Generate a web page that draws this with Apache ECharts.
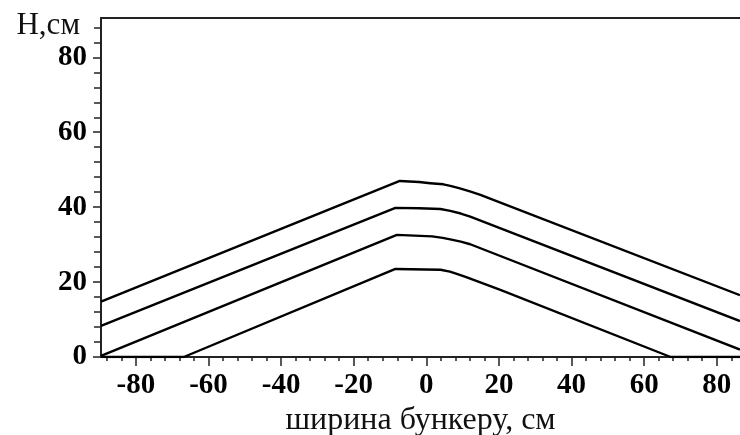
<!DOCTYPE html>
<html>
<head>
<meta charset="utf-8">
<script src="https://cdn.jsdelivr.net/npm/echarts@6/dist/echarts.min.js"></script>
<style>
html,body{margin:0;padding:0;background:#fff;}
#c{width:740px;height:435px;}
</style>
</head>
<body>
<div id="c"></div>
<script>
// ---- data ----
var xMajorTicks = [-80, -60, -40, -20, 0, 20, 40, 60, 80];
var xMinorTicks = [-88, -84, -76, -72, -68, -64, -56, -52, -48, -44, -36, -32, -28, -24, -16, -12, -8, -4,
                   4, 8, 12, 16, 24, 28, 32, 36, 44, 48, 52, 56, 64, 68, 72, 76, 84];
var yMajorTicks = [0, 20, 40, 60, 80];
var yMinorTicks = [4, 8, 12, 16, 24, 28, 32, 36, 44, 48, 52, 56, 64, 68, 72, 76, 84, 88];
var xRange = [-89.6, 86.4];
var yRange = [0, 90.5];
var xTitle = 'ширина бункеру, см';
var yTitle = 'H,см';

var line1 = [[-89.6,14.8],[-7.3,47.0],[-2,46.7],[1.1,46.4],[4.7,46.1],[6.6,45.7],[9,45.1],[12,44.2],[14.9,43.3],[86.4,16.5]];
var line2 = [[-89.6,8.3],[-8.5,39.8],[-2,39.7],[3.9,39.5],[6.6,39.0],[9.5,38.3],[12.1,37.5],[86.4,9.6]];
var line3 = [[-89.6,0.3],[-8.1,32.6],[1.6,32.2],[4.5,31.8],[6.6,31.4],[9.5,30.8],[12.1,30.1],[86.4,2.0]];
var line4 = [[-89.6,0],[-66.8,0],[-8.5,23.5],[3.9,23.3],[6.5,22.8],[8.4,22.2],[11,21.3],[20.4,17.9],[67.3,0],[86.4,0]];

// ---- chart ----
var chart = echarts.init(document.getElementById('c'), null, {renderer: 'canvas'});
var serif = '"Liberation Serif", "DejaVu Serif", serif';
var axisColor = '#222';
function baseAxis(range, extra) {
  var o = {
    type: 'value', min: range[0], max: range[1],
    splitLine: {show: false},
    axisLine: {show: false, onZero: false},
    axisTick: {show: false},
    axisLabel: {show: false}
  };
  for (var k in extra) o[k] = extra[k];
  return o;
}
var series = [line1, line2, line3, line4].map(function (d) {
  return {
    type: 'line', data: d, xAxisIndex: 0, yAxisIndex: 0,
    showSymbol: false, symbol: 'none', smooth: false,
    lineStyle: {color: '#000', width: 2.4, join: 'round'},
    animation: false, silent: true
  };
});
chart.setOption({
  animation: false,
  backgroundColor: '#fff',
  grid: {left: 101, right: 0, top: 18, bottom: 78, containLabel: false, outerBoundsMode: 'none'},
  xAxis: [
    baseAxis(xRange, {
      position: 'bottom',
      name: xTitle, nameLocation: 'middle', nameGap: 44,
      nameTextStyle: {fontFamily: serif, fontSize: 32, color: '#111'},
      axisLine: {show: true, onZero: false, lineStyle: {color: axisColor, width: 2}},
      axisTick: {show: true, customValues: xMajorTicks, length: 9, lineStyle: {color: axisColor, width: 1.5}},
      axisLabel: {show: true, customValues: xMajorTicks, margin: 14, fontFamily: serif, fontWeight: 'bold', fontSize: 29, color: '#000'}
    }),
    baseAxis(xRange, {
      position: 'bottom',
      axisLine: {show: false, onZero: false},
      axisTick: {show: true, customValues: xMinorTicks, length: 4, lineStyle: {color: axisColor, width: 1.5}}
    }),
    baseAxis(xRange, {
      position: 'top',
      axisLine: {show: true, onZero: false, lineStyle: {color: axisColor, width: 2}}
    })
  ],
  yAxis: [
    baseAxis(yRange, {
      position: 'left',
      name: yTitle, nameLocation: 'end', nameGap: -8,
      nameTextStyle: {fontFamily: serif, fontSize: 31, color: '#111', align: 'right', verticalAlign: 'middle', padding: [0, 21, 0, 0]},
      axisLine: {show: true, onZero: false, lineStyle: {color: axisColor, width: 2}},
      axisTick: {show: true, customValues: yMajorTicks, length: 8, lineStyle: {color: axisColor, width: 1.5}},
      axisLabel: {show: true, customValues: yMajorTicks, margin: 14, fontFamily: serif, fontWeight: 'bold', fontSize: 29, color: '#000'}
    }),
    baseAxis(yRange, {
      position: 'left',
      axisLine: {show: false, onZero: false},
      axisTick: {show: true, customValues: yMinorTicks, length: 7, lineStyle: {color: axisColor, width: 1.5}}
    })
  ],
  series: series
});
</script>
</body>
</html>
